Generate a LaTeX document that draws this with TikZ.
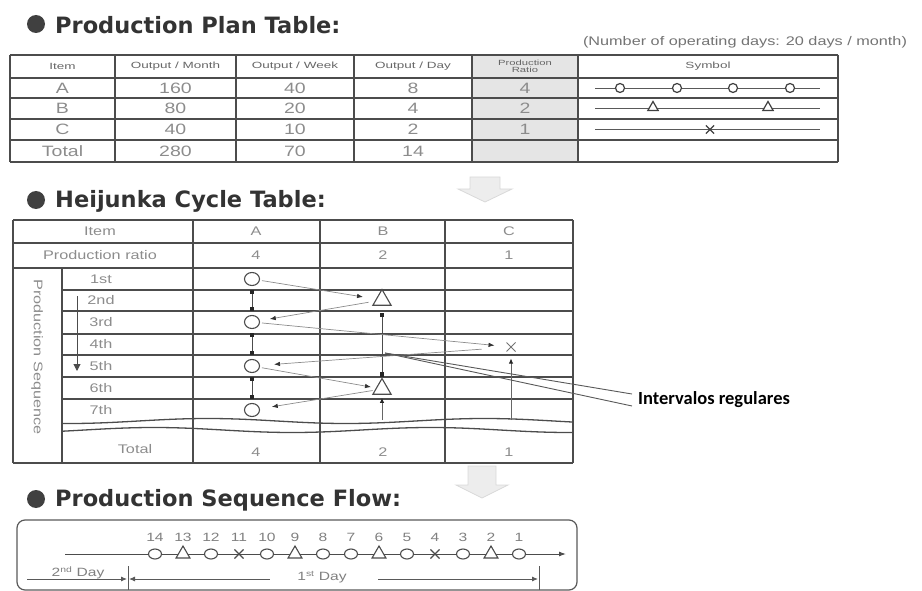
\documentclass[tikz,border=0pt]{standalone}
\usepackage{fontspec}
\setmainfont{Liberation Sans}
\newfontfamily\ttlfont{DejaVu Sans}
\newfontfamily\tfont{Liberation Sans}[FakeStretch=1.3]
\newfontfamily\hfont{Liberation Sans}[FakeStretch=1.5]
\newfontfamily\cfont{Carlito}
\usetikzlibrary{arrows.meta,shapes.geometric,shapes.misc}
\begin{document}
\begin{tikzpicture}[x=1pt,y=-1pt,
  ttl/.style={anchor=west,inner sep=0pt,font=\ttlfont\bfseries\fontsize{22.5}{26}\selectfont,text=black!80},
  bul/.style={circle,fill=black!75,minimum size=18pt,inner sep=0pt},
  cellt/.style={inner sep=0pt,font=\tfont\fontsize{15}{16}\selectfont,text=black!45},
  hcell/.style={inner sep=0pt,font=\tfont\fontsize{12.5}{13}\selectfont,text=black!45},
  hdr/.style={inner sep=0pt,font=\hfont\fontsize{9}{10}\selectfont,text=black!60},
  note/.style={inner sep=0pt,font=\tfont\fontsize{12.5}{14}\selectfont,text=black!55},
  tline/.style={draw=black!70,line width=1.3pt},
  vline/.style={draw=black!70,line width=1.1pt},
  symline/.style={draw=black!65,line width=0.9pt},
  sc/.style={circle,draw=black!75,fill=white,line width=1.2pt,minimum size=9pt,inner sep=0pt},
  st/.style={regular polygon,regular polygon sides=3,draw=black!75,fill=white,line width=1.2pt,minimum size=12pt,inner sep=0pt},
  sx/.style={cross out,draw=black!75,line width=1.2pt,minimum size=7pt,inner sep=0pt},
  hc/.style={ellipse,draw=black!70,fill=white,line width=1.1pt,minimum width=15pt,minimum height=13pt,inner sep=0pt},
  ht/.style={regular polygon,regular polygon sides=3,draw=black!70,fill=white,line width=1.1pt,minimum size=21pt,inner sep=0pt},
  hx/.style={cross out,draw=black!55,line width=1pt,minimum size=8pt,inner sep=0pt},
  vdots/.style={draw=black!70,line width=0.9pt,{Square[length=4pt,width=4pt,color=black!85]}-{Square[length=4pt,width=4pt,color=black!85]}},
  uparr/.style={draw=black!60,line width=0.9pt,-{Latex[length=5pt,width=4.5pt,color=black!85]}},
  zig/.style={draw=black!45,line width=0.7pt,-{Latex[length=6pt,width=4.5pt,color=black!80]}},
  fc/.style={ellipse,draw=black!70,fill=white,line width=1.1pt,minimum width=13pt,minimum height=10pt,inner sep=0pt},
  ft/.style={regular polygon,regular polygon sides=3,draw=black!70,fill=white,line width=1.1pt,minimum size=16pt,inner sep=0pt},
  fx/.style={cross out,draw=black!70,line width=1.1pt,minimum size=8pt,inner sep=0pt},
  fnum/.style={inner sep=0pt,font=\tfont\fontsize{12}{13}\selectfont,text=black!50},
  bigarr/.style={fill=black!7,draw=black!15,line width=0.8pt}
]
\useasboundingbox (0,0) rectangle (922,591);

% ---------------- Production Plan Table ----------------
\node[bul] (bul1) at (36,24) {};
\node[ttl] (ttl1) at (55,25) {Production Plan Table:};
\node[note] (note) at (745,42) {(Number of operating days: 20 days / month)};

\fill[black!10] (472,55) rectangle (578,162);
\foreach \y in {55,78,98,119,140,162} \draw[tline] (10,\y) -- (838,\y);
\foreach \x in {10,115,236,354,472,578,838} \draw[vline] (\x,55) -- (\x,162);

\node[hdr] (hItem) at (62.5,66.5) {Item};
\node[hdr] (hMonth) at (175.5,66.5) {Output / Month};
\node[hdr] (hWeek) at (295,66.5) {Output / Week};
\node[hdr] (hDay) at (413,66.5) {Output / Day};
\node[hdr,align=center,font=\hfont\fontsize{7.5}{7}\selectfont] (hRatio) at (525,66.5) {Production\\Ratio};
\node[hdr] (hSym) at (708,66.5) {Symbol};

\foreach \r/\y/\a/\b/\c/\d/\e in {A/88/A/160/40/8/4, B/108.5/B/80/20/4/2, C/129.5/C/40/10/2/1, T/151/Total/280/70/14/{}}{
  \node[cellt] (pi\r) at (62.5,\y) {\a};
  \node[cellt] (pm\r) at (175.5,\y) {\b};
  \node[cellt] (pw\r) at (295,\y) {\c};
  \node[cellt] (pd\r) at (413,\y) {\d};
  \node[cellt] (pr\r) at (525,\y) {\e};
}

\coordinate (sAl) at (595,88);  \coordinate (sAr) at (820,88);
\coordinate (sBl) at (595,108.5); \coordinate (sBr) at (820,108.5);
\coordinate (sCl) at (595,129.5); \coordinate (sCr) at (820,129.5);
\draw[symline] (sAl) -- (sAr);
\draw[symline] (sBl) -- (sBr);
\draw[symline] (sCl) -- (sCr);
\foreach \x [count=\i] in {620,677,733,790} \node[sc] (sA\i) at (\x,88) {};
\foreach \x [count=\i] in {653,768} \node[st] (sB\i) at (\x,107.5) {};
\node[sx] (sC1) at (710,129.5) {};

% big gray arrow 1
\path[bigarr] (470,177) -- (500,177) -- (500,189) -- (512,189) -- (485,202) -- (458,189) -- (470,189) -- cycle;

% ---------------- Heijunka Cycle Table ----------------
\node[bul] (bul2) at (36,200) {};
\node[ttl] (ttl2) at (55,201) {Heijunka Cycle Table:};

\foreach \y in {220,243,268,463} \draw[tline] (13,\y) -- (573,\y);
\foreach \y in {290,311,334,355,377,399} \draw[tline] (62,\y) -- (573,\y);
\draw[tline,domain=62:573,samples=80,smooth] plot (\x,{421+2.5*sin(\x*1.3)});
\draw[tline,domain=62:573,samples=80,smooth] plot (\x,{430+2.5*sin(\x*1.3+70)});
\foreach \x in {13,193,320,445,573} \draw[vline] (\x,220) -- (\x,463);
\draw[vline] (62,268) -- (62,463);

\node[hcell] (kItem) at (100,231.5) {Item};
\node[hcell] (kA) at (256,231.5) {A};
\node[hcell] (kB) at (383,231.5) {B};
\node[hcell] (kC) at (509,231.5) {C};
\node[hcell] (kRatio) at (100,255.5) {Production ratio};
\node[hcell] (kRA) at (256,255.5) {4};
\node[hcell] (kRB) at (383,255.5) {2};
\node[hcell] (kRC) at (509,255.5) {1};
\node[hcell,rotate=-90] (kPS) at (37,357) {Production Sequence};
\foreach \t/\y in {1st/279,2nd/300.5,3rd/322.5,4th/344.5,5th/366,6th/388,7th/410}
  \node[hcell] (s\t) at (101,\y) {\t};
\node[hcell] (kTot) at (135,449) {Total};
\node[hcell] (kTA) at (256,452) {4};
\node[hcell] (kTB) at (383,452) {2};
\node[hcell] (kTC) at (509,452) {1};

\coordinate (ps0) at (77,296);
\coordinate (ps1) at (77,371);
\draw[draw=black!70,line width=1pt,-{Triangle[length=7pt,width=7pt]}] (ps0) -- (ps1);

% symbols
\node[hc] (a1) at (252,279) {};
\node[ht] (b2) at (382,300) {};
\node[hc] (a3) at (252,322) {};
\node[hx] (c4) at (511,347) {};
\node[hc] (a5) at (252,366) {};
\node[ht] (b6) at (382,389) {};
\node[hc] (a7) at (252,410) {};

\draw[vdots,shorten <=4pt,shorten >=4pt] (a1) -- (a3);
\draw[vdots,shorten <=4pt,shorten >=4pt] (a3) -- (a5);
\draw[vdots,shorten <=4pt,shorten >=4pt] (a5) -- (a7);
\draw[vdots,shorten <=7pt,shorten >=1pt] (b2) -- (b6);
\coordinate (bb) at (382,420);
\coordinate (cb) at (511,420);
\draw[uparr,shorten >=3pt] (bb) -- (b6);
\draw[uparr,shorten >=7pt] (cb) -- (c4);

\draw[zig,shorten <=2pt,shorten >=13pt] (a1) -- (b2);
\draw[zig,shorten <=6pt,shorten >=10pt] (b2) -- (a3);
\draw[zig,shorten <=2pt,shorten >=12pt] (a3) -- (c4);
\draw[zig,shorten <=25pt,shorten >=14pt] (c4) -- (a5);
\draw[zig,shorten <=2pt,shorten >=5pt] (a5) -- (b6);
\draw[zig,shorten <=2pt,shorten >=12pt] (b6) -- (a7);

% callout
\node[anchor=west,inner sep=0pt,font=\cfont\bfseries\fontsize{18.5}{21}\selectfont] (intv) at (638,400) {Intervalos regulares};
\coordinate (iv) at (385,353);
\draw[draw=black!65,line width=0.9pt] (iv) -- ([shift={(-6pt,6pt)}]intv.west);
\draw[draw=black!65,line width=0.9pt] (iv) -- ([shift={(-6pt,-6pt)}]intv.west);

% big gray arrow 2
\path[bigarr] (468,466) -- (496,466) -- (496,485) -- (508,485) -- (482,498) -- (456,485) -- (468,485) -- cycle;

% ---------------- Production Sequence Flow ----------------
\node[bul] (bul3) at (36,499) {};
\node[ttl] (ttl3) at (55,500) {Production Sequence Flow:};
\draw[rounded corners=8pt,draw=black!65,line width=1.2pt] (17,520) rectangle (577,590);

\coordinate (fl0) at (65,554);
\coordinate (fl1) at (566,554);
\draw[draw=black!70,line width=1pt,-{Latex[length=7pt,width=5pt]}] (fl0) -- (fl1);
\foreach \n/\s in {14/c,13/t,12/c,11/x,10/c,9/t,8/c,7/c,6/t,5/c,4/x,3/c,2/t,1/c}{
  \node[f\s] (f\n) at ({155+28*(14-\n)},554) {};
  \node[fnum] (fn\n) at ({155+28*(14-\n)},537) {\n};
}

\coordinate (d0) at (27,579);
\coordinate (d1) at (127,579);
\coordinate (d2) at (129,579);
\coordinate (d3) at (270,579);
\coordinate (d4) at (378,579);
\coordinate (d5) at (538,579);
\coordinate (t1a) at (128,566); \coordinate (t1b) at (128,590);
\coordinate (t2a) at (539,566); \coordinate (t2b) at (539,590);
\draw[draw=black!65,line width=0.9pt] (t1a) -- (t1b);
\draw[draw=black!65,line width=0.9pt] (t2a) -- (t2b);
\draw[draw=black!65,line width=0.9pt,-{Latex[length=6pt,width=5pt]}] (d0) -- (d1);
\draw[draw=black!65,line width=0.9pt,{Latex[length=6pt,width=5pt]}-] (d2) -- (d3);
\draw[draw=black!65,line width=0.9pt,-{Latex[length=6pt,width=5pt]}] (d4) -- (d5);
\node[fnum] (day2) at (78,573) {2\textsuperscript{nd} Day};
\node[fnum] (day1) at (322,577) {1\textsuperscript{st} Day};
\end{tikzpicture}
\end{document}
